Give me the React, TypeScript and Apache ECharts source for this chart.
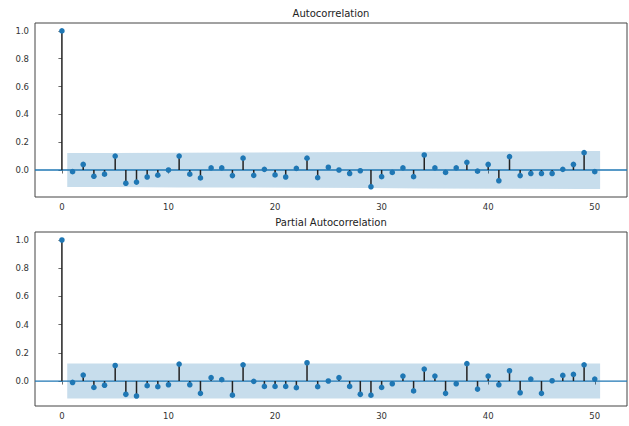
import React, { useEffect, useRef } from "react";
import * as echarts from "echarts";

// ACF values, lags 0..50
const acfValues = [
  1.0, -0.012, 0.04, -0.045, -0.03, 0.1, -0.095, -0.087, -0.05, -0.037,
  0.0, 0.1, -0.03, -0.057, 0.015, 0.015, -0.04, 0.085, -0.038, 0.005,
  -0.035, -0.05, 0.012, 0.085, -0.055, 0.02, 0.0, -0.025, -0.005, -0.12,
  -0.048, -0.017, 0.015, -0.048, 0.108, 0.015, -0.017, 0.015, 0.055, -0.008,
  0.04, -0.077, 0.096, -0.04, -0.025, -0.025, -0.025, 0.005, 0.04, 0.125,
  -0.012,
];

// PACF values, lags 0..50
const pacfValues = [
  1.0, -0.01, 0.042, -0.045, -0.03, 0.11, -0.094, -0.106, -0.033, -0.04,
  -0.026, 0.12, -0.026, -0.087, 0.024, 0.01, -0.1, 0.115, -0.002, -0.038,
  -0.038, -0.038, -0.047, 0.13, -0.04, 0.0, 0.024, -0.038, -0.094, -0.1,
  -0.045, -0.019, 0.035, -0.07, 0.085, 0.035, -0.087, -0.019, 0.123, -0.057,
  0.035, -0.026, 0.073, -0.083, 0.014, -0.087, 0.002, 0.04, 0.047, 0.115,
  0.014,
];

// Confidence band (half widths) at given x positions
const acfBandX = [0.5, 5, 11, 17, 23, 29, 34, 42, 49, 50.5];
const acfBandHalf = [0.122, 0.123, 0.125, 0.126, 0.128, 0.13, 0.132, 0.134, 0.136, 0.137];
const pacfBandX = [0.5, 50.5];
const pacfBandHalf = [0.124, 0.124];

const yTicks = [0, 0.2, 0.4, 0.6, 0.8, 1.0];
const xTicks = [0, 10, 20, 30, 40, 50];
const titles = ["Autocorrelation", "Partial Autocorrelation"];

const BLUE = "#1f77b4";
const FONT = "DejaVu Sans";
const X_MIN = -2.525;
const X_MAX = 53.025;

export default function App() {
  const ref = useRef<HTMLDivElement>(null);

  useEffect(() => {
    if (!ref.current) return;
    const chart = echarts.init(ref.current, null, { renderer: "svg" });

    const grids = [
      { left: 35, top: 23, width: 592, height: 174 },
      { left: 35, top: 232, width: 592, height: 174 },
    ];
    const yRanges = [
      [-0.194, 1.057],
      [-0.177, 1.057],
    ];

    const xAxes = grids.map((_, i) => ({
      type: "value",
      gridIndex: i,
      min: X_MIN,
      max: X_MAX,
      splitLine: { show: false },
      axisLine: { show: false },
      axisTick: {
        show: true,
        length: 3.5,
        customValues: xTicks,
        lineStyle: { color: "#444", width: 0.8 },
      },
      axisLabel: {
        customValues: xTicks,
        color: "#333",
        fontFamily: FONT,
        fontSize: 8.5,
        margin: 5,
      },
    }));
    const yAxes = grids.map((_, i) => ({
      type: "value",
      gridIndex: i,
      min: yRanges[i][0],
      max: yRanges[i][1],
      splitLine: { show: false },
      axisLine: { show: false },
      axisTick: {
        show: true,
        length: 3.5,
        customValues: yTicks,
        lineStyle: { color: "#444", width: 0.8 },
      },
      axisLabel: {
        customValues: yTicks,
        color: "#333",
        fontFamily: FONT,
        fontSize: 8.5,
        margin: 6,
        formatter: (v: number) => v.toFixed(1),
      },
    }));

    const bandSeries = (i: number, bx: number[], bh: number[]) => ({
      type: "custom",
      xAxisIndex: i,
      yAxisIndex: i,
      data: [[bx[0], 0]],
      z: 1,
      silent: true,
      renderItem: (_p: any, api: any) => {
        const pts: number[][] = [];
        for (let k = 0; k < bx.length; k++) pts.push(api.coord([bx[k], bh[k]]));
        for (let k = bx.length - 1; k >= 0; k--) pts.push(api.coord([bx[k], -bh[k]]));
        return {
          type: "polygon",
          shape: { points: pts },
          style: { fill: "rgba(31,119,180,0.25)", stroke: "none" },
        };
      },
    });

    const stemSeries = (i: number, vals: number[]) => ({
      type: "custom",
      xAxisIndex: i,
      yAxisIndex: i,
      data: vals.map((v, k) => [k, v]),
      encode: { x: 0, y: 1 },
      z: 3,
      renderItem: (_p: any, api: any) => {
        const x = api.value(0);
        const y = api.value(1);
        const p0 = api.coord([x, 0]);
        const p1 = api.coord([x, y]);
        return {
          type: "group",
          children: [
            {
              type: "line",
              shape: { x1: p0[0], y1: p0[1], x2: p1[0], y2: p1[1] },
              style: { stroke: "#222", lineWidth: 1.5 },
            },
            {
              type: "circle",
              shape: { cx: p1[0], cy: p1[1], r: 2.8 },
              style: { fill: BLUE },
              z2: 2,
            },
          ],
        };
      },
    });

    const zeroLine = (i: number) => ({
      type: "line",
      xAxisIndex: i,
      yAxisIndex: i,
      data: [
        [X_MIN, 0],
        [X_MAX, 0],
      ],
      symbol: "none",
      z: 2,
      silent: true,
      lineStyle: { color: BLUE, width: 1.3 },
    });

    chart.setOption({
      animation: false,
      grid: grids.map((g) => ({
        ...g,
        show: true,
        borderColor: "#444",
        borderWidth: 1,
        backgroundColor: "transparent",
      })),
      xAxis: xAxes,
      yAxis: yAxes,
      graphic: [
        {
          type: "text",
          x: 331,
          y: 13.5,
          style: {
            text: titles[0],
            fontFamily: FONT,
            fontSize: 10,
            fill: "#222",
            textAlign: "center",
            textVerticalAlign: "middle",
          },
        },
        {
          type: "text",
          x: 331,
          y: 222,
          style: {
            text: titles[1],
            fontFamily: FONT,
            fontSize: 10,
            fill: "#222",
            textAlign: "center",
            textVerticalAlign: "middle",
          },
        },
      ],
      series: [
        bandSeries(0, acfBandX, acfBandHalf),
        zeroLine(0),
        stemSeries(0, acfValues),
        bandSeries(1, pacfBandX, pacfBandHalf),
        zeroLine(1),
        stemSeries(1, pacfValues),
      ],
    });

    return () => chart.dispose();
  }, []);

  return (
    <div
      ref={ref}
      style={{ position: "fixed", left: 0, top: 0, width: 629, height: 426, background: "#fff" }}
    />
  );
}
